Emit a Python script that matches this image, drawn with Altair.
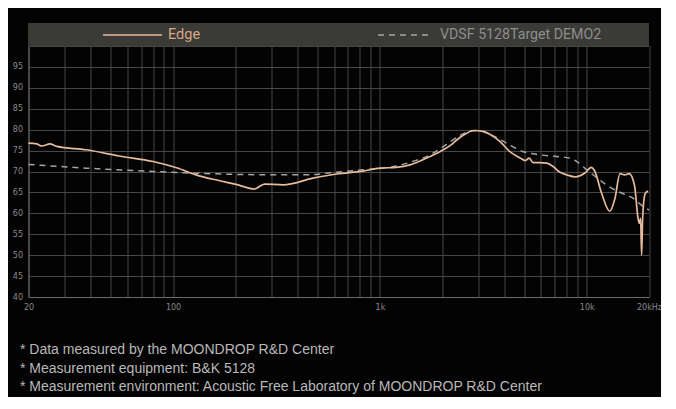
import altair as alt
import pandas as pd

# ---------------- data ----------------
series_names = ["Edge", "VDSF 5128Target DEMO2"]

edge_freq = [20, 21.9, 23.2, 25.4, 27.4, 38, 55, 80, 104, 129, 168, 206, 247, 277, 340,
             475, 618, 830, 1000, 1200, 1400, 1750, 1960, 2200, 2360, 2600, 2830, 3160,
             3530, 3800, 4240, 4770, 5045, 5270, 5510, 5900, 6400, 6870, 7430, 8000, 8780,
             9830, 10530, 10950, 11800, 12920, 13680, 14480, 15250, 16050, 17030, 17680,
             17960, 18220, 18420, 18620, 18830, 19200, 19800]
edge_db = [76.8, 76.6, 76.1, 76.6, 76.0, 75.2, 73.7, 72.4, 70.9, 69.2, 67.8, 66.8, 65.8,
           67.0, 66.8, 68.4, 69.4, 70.1, 70.8, 71.0, 71.6, 73.6, 74.8, 76.3, 77.6, 79.0,
           79.8, 79.6, 78.4, 77.2, 74.8, 73.2, 72.6, 73.2, 72.1, 72.1, 72.0, 71.2, 69.8,
           69.2, 68.7, 69.7, 71.0, 70.0, 64.8, 60.5, 63.5, 69.5, 69.2, 69.5, 66.6, 59.0,
           57.6, 58.8, 50.0, 58.4, 62.4, 64.8, 65.3]

target_freq = [20, 38, 80, 129, 206, 300, 450, 573, 830, 1200, 1440, 1750, 1960, 2200,
               2630, 2930, 3530, 4090, 4900, 5900, 7150, 8280, 8930, 10000, 11150, 12450,
               14200, 16500, 18800, 20000]
target_db = [71.7, 70.8, 70.0, 69.6, 69.3, 69.2, 69.2, 69.7, 70.4, 71.3, 72.4, 74.0, 75.5,
             77.2, 79.4, 79.8, 78.5, 76.8, 74.8, 74.0, 73.6, 73.2, 72.4, 70.4, 68.6, 66.8,
             65.2, 63.8, 61.6, 60.8]

x_grid_values = [20, 30, 40, 50, 60, 70, 80, 90,
                 100, 200, 300, 400, 500, 600, 700, 800, 900,
                 1000, 2000, 3000, 4000, 5000, 6000, 7000, 8000, 9000,
                 10000, 20000]
x_label_values = [20, 100, 1000, 10000, 20000]
x_label_texts = ["20", "100", "1k", "10k", "20kHz"]
y_grid_values = [40, 45, 50, 55, 60, 65, 70, 75, 80, 85, 90, 95, 100]

footer_lines = [
    "* Data measured by the MOONDROP R&D Center",
    "* Measurement equipment: B&K 5128",
    "* Measurement environment: Acoustic Free Laboratory of MOONDROP R&D Center",
]

# ---------------- layout ----------------
W, H = 620.5, 251
EDGE_COLOR = "#e6bb9b"
EDGE_TEXT = "#d8a783"
TARGET_COLOR = "#a2a7a7"
GRID = "#474747"

edge_df = pd.DataFrame({"freq": edge_freq, "db": edge_db, "series": series_names[0]})
target_df = pd.DataFrame({"freq": target_freq, "db": target_db, "series": series_names[1]})
one = pd.DataFrame({"k": [0]})

label_expr = " : ".join(
    f"datum.value == {v} ? '{t}'" for v, t in zip(x_label_values, x_label_texts)
) + " : ''"

x_scale = alt.Scale(type="log", domain=[20, 20000], nice=False)
y_scale = alt.Scale(domain=[40, 100], nice=False, zero=False)

x_axis = alt.Axis(values=x_grid_values, labelExpr=label_expr, grid=True, gridColor=GRID,
                  gridWidth=1, ticks=False, domainColor="#6a6a6a", domainWidth=1,
                  labelColor="#8a8a8a", labelFontSize=8, labelPadding=6, title=None,
                  labelOverlap=False, labelFlush=False, labelFont="DejaVu Sans")
y_axis = alt.Axis(values=y_grid_values, labelExpr="datum.value >= 100 ? '' : datum.label",
                  grid=True, gridColor=GRID, gridWidth=1, ticks=False,
                  domainColor="#6a6a6a", domainWidth=1, labelColor="#8a8a8a",
                  labelFontSize=8, labelPadding=6, title=None, labelOverlap=False,
                  labelFont="DejaVu Sans")

target = alt.Chart(target_df).mark_line(
    color=TARGET_COLOR, strokeDash=[6, 5], strokeWidth=1.5, interpolate="monotone"
).encode(
    x=alt.X("freq:Q", scale=x_scale, axis=x_axis),
    y=alt.Y("db:Q", scale=y_scale, axis=y_axis),
)

edge = alt.Chart(edge_df).mark_line(
    color=EDGE_COLOR, strokeWidth=1.7, interpolate="monotone"
).encode(
    x=alt.X("freq:Q", scale=x_scale, axis=x_axis),
    y=alt.Y("db:Q", scale=y_scale, axis=y_axis),
)

band = alt.Chart(one).mark_rect(color="#3a3a37").encode(
    x=alt.value(-0.5), x2=alt.value(W), y=alt.value(-23), y2=alt.value(0)
)

leg_edge_line = alt.Chart(one).mark_rule(color=EDGE_COLOR, strokeWidth=1.6).encode(
    x=alt.value(74.5), x2=alt.value(133.5), y=alt.value(-11)
)
leg_target_line = alt.Chart(one).mark_rule(color=TARGET_COLOR, strokeWidth=1.4,
                                           strokeDash=[6, 5]).encode(
    x=alt.value(349.5), x2=alt.value(404.5), y=alt.value(-11)
)
leg_edge_text = alt.Chart(one).mark_text(
    align="left", baseline="middle", font="Roboto", fontSize=14.5, color=EDGE_TEXT
).encode(x=alt.value(139.5), y=alt.value(-11), text=alt.value(series_names[0]))
leg_target_text = alt.Chart(one).mark_text(
    align="left", baseline="middle", font="Roboto", fontSize=14.2, color="#8e8e8e"
).encode(x=alt.value(411.5), y=alt.value(-11), text=alt.value(series_names[1]))

footer = alt.Chart(one).mark_text(
    align="left", baseline="middle", font="Liberation Sans", fontSize=14,
    color="#b8b8b8", lineBreak="\n", lineHeight=18.8
).encode(x=alt.value(-8.5), y=alt.value(303.8), text=alt.value("\n".join(footer_lines)))

chart = alt.layer(
    target, edge, band, leg_edge_line, leg_target_line, leg_edge_text, leg_target_text, footer
).properties(
    width=W, height=H,
    autosize=alt.AutoSizeParams(type="none"),
    padding={"left": 20.5, "top": 38, "right": 12, "bottom": 100},
    background="#030303",
).configure_view(strokeWidth=0)

chart.save("out.html", embed_options={"renderer": "svg", "actions": False})
